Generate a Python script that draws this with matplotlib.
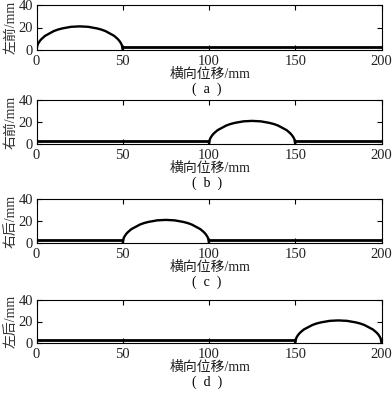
import numpy as np
import matplotlib
matplotlib.use("Agg")
import matplotlib.pyplot as plt

# ---- data ----
panel_ylabels = ["左前/mm", "右前/mm", "右后/mm", "左后/mm"]
panel_captions = ["(  a  )", "(  b  )", "(  c  )", "(  d  )"]
bump_starts = [0, 100, 50, 150]          # where the bump begins (mm)
bump_offsets = [0, 0.5, 1, 2, 3, 5, 7.5, 10, 12.5, 15, 20, 25, 30, 35, 37.5, 40, 42.5, 45, 47, 48, 49, 49.5, 50]
bump_heights = [0, 4.2, 5.9, 8.2, 9.9, 12.6, 14.7, 16.8, 18.2, 19.2, 20.6, 21.0, 20.6, 19.2, 18.2, 16.8, 14.7, 12.6, 9.9, 8.2, 5.9, 4.2, 0]
flat_height = 2.5
x_range = [0, 200]
x_ticks = [0, 50, 100, 150, 200]
y_ticks = [0, 20, 40]
xlabel = "横向位移/mm"

fam = ["Liberation Serif", "Noto Sans CJK SC"]
plt.rcParams["font.family"] = fam
plt.rcParams["font.size"] = 10

W, H = 392, 397
fig = plt.figure(figsize=(W / 100, H / 100), dpi=100)

left_px, right_px = 36.5, 381.5
panels_px = [(5, 50), (100, 144), (199, 243), (300, 343)]

for i, (top, bot) in enumerate(panels_px):
    ax = fig.add_axes([left_px / W, 1 - bot / H, (right_px - left_px) / W, (bot - top) / H])
    s = bump_starts[i]
    bx = [s + o for o in bump_offsets]
    # flat segments before and after bump
    if s > x_range[0]:
        ax.plot([x_range[0], s], [flat_height, flat_height], color="black", lw=2.0, solid_capstyle="butt")
        ax.plot([s, s], [flat_height, 0], color="black", lw=1.5)
    if s + 50 < x_range[1]:
        ax.plot([s + 50, x_range[1]], [flat_height, flat_height], color="black", lw=2.0, solid_capstyle="butt")
        ax.plot([s + 50, s + 50], [0, flat_height], color="black", lw=1.5)
    ax.plot(bx, bump_heights, color="black", lw=1.7)
    ax.set_xlim(*x_range)
    ax.set_ylim(0, 40)
    ax.set_xticks(x_ticks)
    ax.set_yticks(y_ticks)
    ax.tick_params(direction="in", top=True, right=True, length=3.5, width=0.8, pad=2.5, labelsize=10.5, labelcolor="#222222")
    ax.tick_params(axis="x", pad=3.5)
    for sp in ax.spines.values():
        sp.set_linewidth(0.8)
    ax.set_ylabel(panel_ylabels[i], fontsize=10, labelpad=0.5, color="#333333")
    fig.text(210 / W, 1 - (bot + 24.5) / H, xlabel, ha="center", va="center", fontsize=10, color="#222222")
    fig.text(207 / W, 1 - (bot + 39.5) / H, panel_captions[i], ha="center", va="center", fontsize=10)

fig.savefig("out.png", dpi=100)
